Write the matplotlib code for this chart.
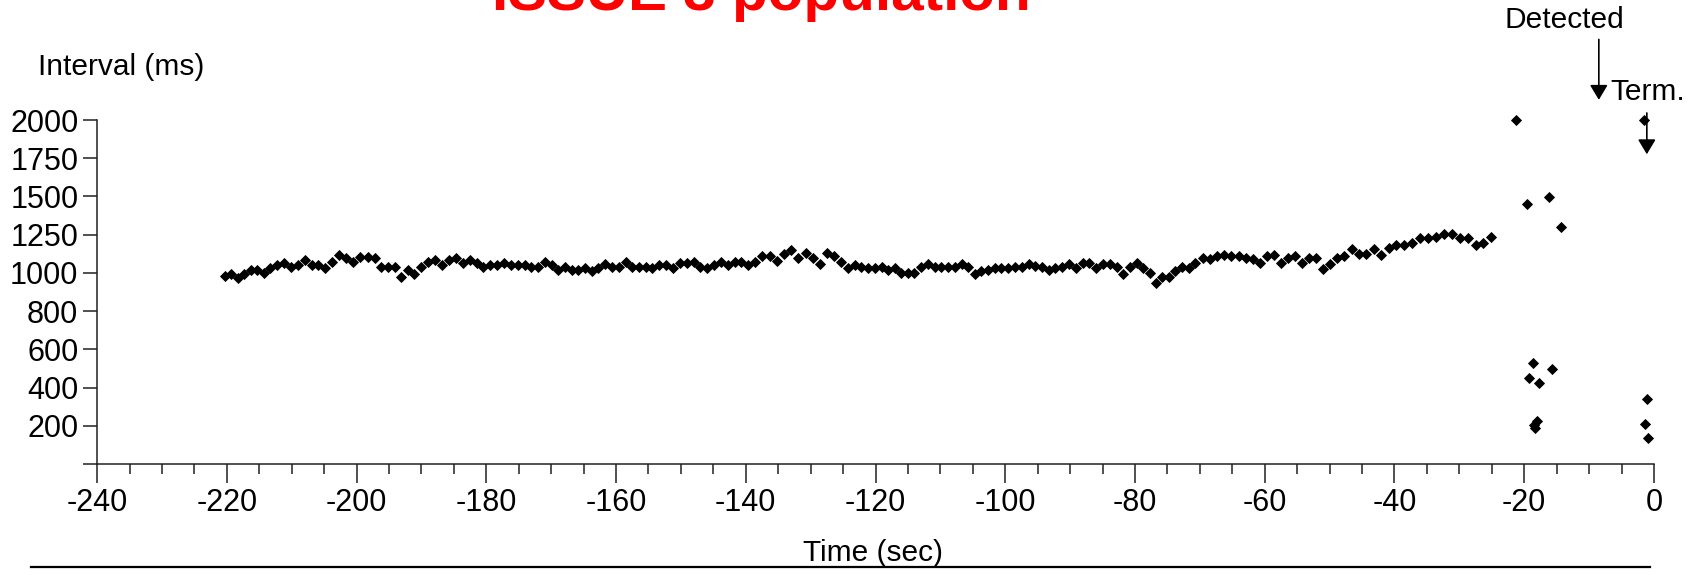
import numpy as np
import matplotlib
matplotlib.use('Agg')
import matplotlib.pyplot as plt
from matplotlib.ticker import MultipleLocator, FixedLocator, FixedFormatter
from matplotlib.lines import Line2D

plt.rcParams['font.family'] = ['Liberation Sans', 'DejaVu Sans']
plt.rcParams['axes.unicode_minus'] = False

# RR intervals (ms), beat by beat
rr_ms = [982, 995, 974, 995, 1018, 1016, 1000, 1029, 1051, 1062,
         1037, 1053, 1082, 1051, 1053, 1029, 1071, 1114, 1095, 1071,
         1106, 1106, 1095, 1037, 1037, 1037, 981, 1018, 993, 1037,
         1073, 1082, 1051, 1082, 1095, 1062, 1082, 1062, 1037, 1053,
         1053, 1062, 1053, 1053, 1053, 1037, 1037, 1071, 1053, 1020,
         1037, 1022, 1022, 1035, 1011, 1033, 1055, 1037, 1037, 1073,
         1037, 1037,
         1037, 1029, 1053, 1053, 1033, 1062, 1062, 1073, 1037, 1029,
         1053, 1073, 1051, 1073, 1071, 1049, 1071, 1110, 1110, 1077,
         1121, 1147, 1095, 1128, 1095, 1055, 1132, 1110, 1073, 1029,
         1053, 1037, 1031, 1033, 1040, 1022, 1031, 1000, 1000, 1000,
         1037, 1055, 1037, 1037, 1037, 1040, 1055, 1037, 995, 1011,
         1022, 1031, 1031, 1031, 1040, 1040, 1060, 1044, 1037, 1022,
         1033, 1037,
         1055, 1033, 1062, 1062, 1033, 1055, 1055, 1037, 995, 1037,
         1062, 1029, 1000, 948, 977, 981, 1011, 1037, 1033, 1066,
         1095, 1088, 1110, 1117, 1110, 1110, 1099, 1092, 1066, 1110,
         1117, 1066, 1095, 1110, 1066, 1095, 1095, 1027, 1060, 1095,
         1110, 1158, 1121, 1121, 1154, 1114, 1165, 1180, 1180, 1198,
         1231, 1231, 1238, 1257, 1257, 1227, 1231, 1180, 1198, 1238]
t_first = -220.3

# irregular beats just before detection / termination
burst_t = [-21.2, -19.6, -16.2, -14.3, -18.7, -19.2, -17.7, -15.7,
           -18.1, -18.5, -18.4, -1.54, -1.0, -1.39, -0.87]
burst_ms = [2000, 1450, 1495, 1297, 530, 450, 424, 499,
            226, 203, 186, 2000, 339, 207, 137]

yticks = [0, 200, 400, 600, 800, 1000, 1250, 1500, 1750, 2000]
ytick_labels = [''] + [str(v) for v in yticks[1:]]
xticks = list(range(-240, 1, 20))

beat_t = t_first + np.concatenate([[0.0], np.cumsum(rr_ms[1:]) / 1000.0])


def fwd(v):
    v = np.asarray(v, dtype=float)
    return np.where(v <= 1000, v / 200.0, 5 + (v - 1000) / 250.0)


def inv(u):
    u = np.asarray(u, dtype=float)
    return np.where(u <= 5, u * 200.0, 1000 + (u - 5) * 250.0)


fig = plt.figure(figsize=(17.06, 5.75), dpi=100)
ax = fig.add_axes([0.0569, 0.1930, 0.9126, 0.5983])

ax.plot(beat_t, rr_ms, 'D', color='black', ms=4.6, mec='black', mew=0.6,
        clip_on=False)
ax.plot(burst_t, burst_ms, 'D', color='black', ms=4.6, mec='black', mew=0.6,
        clip_on=False)

ax.set_yscale('function', functions=(fwd, inv))
ax.set_ylim(0, 2000)
ax.set_xlim(-240, 0)

ax.yaxis.set_major_locator(FixedLocator(yticks))
ax.yaxis.set_major_formatter(FixedFormatter(ytick_labels))
ax.yaxis.set_minor_locator(FixedLocator([]))
ax.xaxis.set_major_locator(FixedLocator(xticks))
ax.xaxis.set_minor_locator(MultipleLocator(5))

for s in ['top', 'right']:
    ax.spines[s].set_visible(False)
for s in ['left', 'bottom']:
    ax.spines[s].set_linewidth(1.1)
    ax.spines[s].set_color('#202020')

ax.tick_params(axis='y', which='major', length=10, width=1.1, pad=3.5,
               labelsize=22, color='#202020')
ax.tick_params(axis='x', which='major', length=13.5, width=1.1, pad=4,
               labelsize=22, color='#202020')
ax.tick_params(axis='x', which='minor', length=7, width=1.1, color='#202020')

# event arrows
arrow = dict(arrowstyle='-|>,head_length=0.5,head_width=0.3',
             color='black', lw=1.2, mutation_scale=18, shrinkA=0, shrinkB=0)
ax.annotate('', xy=(-8.5, 2132), xytext=(-8.5, 2527), arrowprops=arrow,
            annotation_clip=False)
ax.annotate('', xy=(-1.1, 1776), xytext=(-1.1, 2046), arrowprops=arrow,
            annotation_clip=False)

fig.text(0.9168, 0.9652, 'Detected', fontsize=21.5, ha='center', va='center')
fig.text(0.9437, 0.840, 'Term.', fontsize=21.5, ha='left', va='center')
fig.text(0.0223, 0.883, 'Interval (ms)', fontsize=21.5, ha='left', va='center')
fig.text(0.5117, 0.038, 'Time (sec)', fontsize=21.5, ha='center', va='center')

# title sits partly above the top edge, as in the source slide
fig.text(0.4464, 0.982, 'ISSUE 3 population', fontsize=42, fontweight='bold',
         color='#ff0000', ha='center', va='baseline')

fig.add_artist(Line2D([0.018, 0.967], [0.014, 0.014], color='black', lw=1.6,
                      transform=fig.transFigure))

fig.savefig('out.png', dpi=100)
